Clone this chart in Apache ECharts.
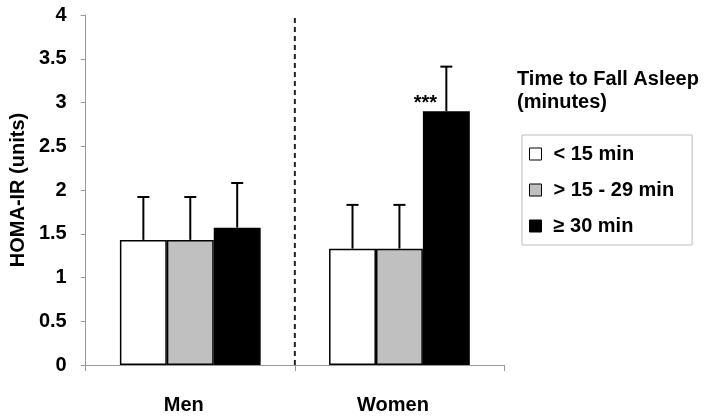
<!DOCTYPE html>
<html>
<head>
<meta charset="utf-8">
<script src="https://cdn.jsdelivr.net/npm/echarts@6/dist/echarts.min.js"></script>
<style>
html,body{margin:0;padding:0;background:#fff;}
#chart{width:707px;height:417px;}
</style>
</head>
<body>
<div id="chart"></div>
<script>
const categories = ['Men', 'Women'];
const seriesNames = ['< 15 min', '> 15 - 29 min', '≥ 30 min'];
const under15 = [1.43, 1.33];
const from15to29 = [1.43, 1.33];
const over30 = [1.57, 2.90];
const errUnder15 = [0.49, 0.50];
const errFrom15to29 = [0.49, 0.50];
const errOver30 = [0.51, 0.51];
const yTicks = [0, 0.5, 1, 1.5, 2, 2.5, 3, 3.5, 4];
const significance = '***';
const separatorAt = 1; // boundary between the Men and Women groups (in category units)

const FONT = '"Liberation Sans", Arial, sans-serif';
const GAP = 0.327;
const means = [under15, from15to29, over30];
const errs = [errUnder15, errFrom15to29, errOver30];
const errData = [];
means.forEach((arr, s) => arr.forEach((v, c) => errData.push([c, s, v, v + errs[s][c]])));

const fills = ['#ffffff', '#c0c0c0', '#000000'];
const barSeries = seriesNames.map((name, s) => ({
  name: name,
  type: 'bar',
  barGap: 0,
  barCategoryGap: (GAP * 100) + '%',
  itemStyle: { color: fills[s], borderColor: '#000', borderWidth: 1.5 },
  data: means[s].map((v, c) => {
    const item = { value: v };
    if (s === 2 && c === 1) {
      item.label = {
        show: true, position: 'top', distance: 0, offset: [-21, 2],
        formatter: significance, fontSize: 20, fontWeight: 'bold', color: '#000', fontFamily: FONT
      };
    }
    return item;
  }),
  z: 2
}));

const chart = echarts.init(document.getElementById('chart'));
chart.setOption({
  animation: false,
  backgroundColor: '#fff',
  title: {
    text: 'Time to Fall Asleep\n(minutes)',
    left: 517, top: 68, padding: 0,
    textStyle: { fontFamily: FONT, fontSize: 20, fontWeight: 'bold', color: '#000', lineHeight: 23 }
  },
  legend: {
    orient: 'vertical', left: 522, top: 135,
    padding: [7, 18, 7, 7],
    borderColor: '#bdbdbd', borderWidth: 1,
    itemWidth: 12, itemHeight: 12, itemGap: 12,
    icon: 'rect',
    itemStyle: { borderColor: '#000', borderWidth: 1 },
    textStyle: { fontFamily: FONT, fontSize: 20, fontWeight: 'bold', color: '#000', lineHeight: 24, padding: [0, 0, 0, 7] },
    data: seriesNames
  },
  grid: { left: 79, right: 203, top: 15, bottom: 52, containLabel: false },
  xAxis: [{
    type: 'category',
    data: categories,
    axisLine: { lineStyle: { color: '#999', width: 1 } },
    axisTick: { show: true, length: 6, lineStyle: { color: '#999' } },
    axisLabel: { margin: 30, padding: [0, 13, 0, 0], fontFamily: FONT, fontSize: 20, fontWeight: 'bold', color: '#000' },
    splitLine: { show: false }
  }, {
    type: 'value',
    show: false,
    min: 0, max: categories.length,
    position: 'bottom'
  }],
  yAxis: {
    type: 'value',
    min: yTicks[0], max: yTicks[yTicks.length - 1], interval: yTicks[1] - yTicks[0],
    name: 'HOMA-IR (units)',
    nameLocation: 'middle', nameRotate: 90, nameGap: 38,
    nameTextStyle: { fontFamily: FONT, fontSize: 20, fontWeight: 'bold', color: '#000' },
    axisLine: { show: true, lineStyle: { color: '#999', width: 1 } },
    axisTick: { show: true, length: 5, lineStyle: { color: '#999' } },
    axisLabel: { margin: 19, fontFamily: FONT, fontSize: 20, fontWeight: 'bold', color: '#000' },
    splitLine: { show: false }
  },
  series: barSeries.concat([{
    type: 'custom',
    name: 'error',
    z: 3,
    silent: true,
    data: errData,
    encode: { x: 0, y: 3 },
    renderItem: function (params, api) {
      const c = api.value(0), s = api.value(1), m = api.value(2), hi = api.value(3);
      const base = api.coord([c, m]);
      const top = api.coord([c, hi]);
      const band = api.size([1, 0])[0];
      const bw = band * (1 - GAP) / 3;
      const x = base[0] + (s - 1) * bw;
      const st = { stroke: '#000', lineWidth: 2 };
      return {
        type: 'group',
        children: [
          { type: 'line', shape: { x1: x, y1: base[1], x2: x, y2: top[1] }, style: st },
          { type: 'line', shape: { x1: x - 6, y1: top[1], x2: x + 6, y2: top[1] }, style: st }
        ]
      };
    }
  }, {
    type: 'line',
    name: 'separator',
    xAxisIndex: 1,
    silent: true,
    symbol: 'none',
    z: 1,
    lineStyle: { color: '#222', width: 2, type: [5, 4] },
    data: [[separatorAt, yTicks[0]], [separatorAt, yTicks[yTicks.length - 1]]]
  }])
});
</script>
</body>
</html>
